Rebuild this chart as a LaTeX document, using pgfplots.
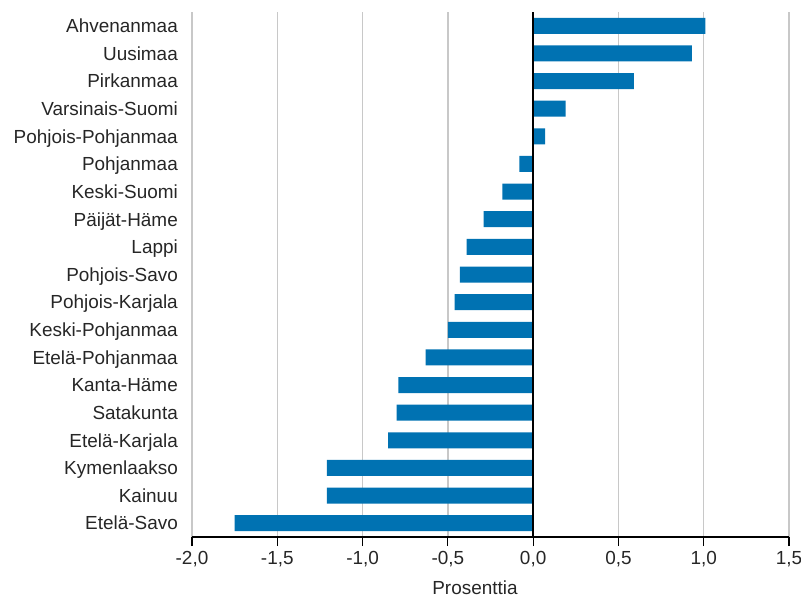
\documentclass[border=0pt]{standalone}
\usepackage{pgfplots}
\pgfplotsset{compat=1.18}
\usepackage{fontspec}
\setmainfont{Liberation Sans}
\definecolor{barblue}{RGB}{0,114,178}
\definecolor{gridgray}{RGB}{200,200,200}
\begin{document}
\begin{tikzpicture}
\useasboundingbox (0,0) rectangle (801bp,-597bp);
\begin{axis}[
  at={(192bp,-537bp)}, anchor=south west,
  scale only axis, width=597bp, height=525bp,
  xmin=-2, xmax=1.5, ymin=-0.5, ymax=18.5,
  y dir=reverse,
  xbar, bar width=16bp, bar shift=0pt,
  axis x line*=bottom, axis y line*=left,
  y axis line style={draw=none},
  x axis line style={black, line width=1.2bp, -},
  xtick={-2,-1.5,-1,-0.5,0,0.5,1,1.5},
  xticklabels={{-2,0},{-1,5},{-1,0},{-0,5},{0,0},{0,5},{1,0},{1,5}},
  tick align=outside,
  major tick length=9bp,
  xtick style={black, line width=1.2bp},
  ytick style={draw=none},
  xmajorgrids,
  grid style={gridgray, line width=1.3bp},
  ytick={0,...,18},
  yticklabels={Ahvenanmaa,Uusimaa,Pirkanmaa,Varsinais-Suomi,Pohjois-Pohjanmaa,Pohjanmaa,Keski-Suomi,Päijät-Häme,Lappi,Pohjois-Savo,Pohjois-Karjala,Keski-Pohjanmaa,Etelä-Pohjanmaa,Kanta-Häme,Satakunta,Etelä-Karjala,Kymenlaakso,Kainuu,Etelä-Savo},
  ticklabel style={font=\fontsize{19}{22}\selectfont, text=black!85},
  yticklabel style={anchor=base east, inner sep=0pt, xshift=-5bp, yshift=-6.8bp},
  xticklabel style={anchor=base, inner sep=0pt, yshift=-18bp},
  xlabel={Prosenttia},
  xlabel style={at={(axis description cs:0.474,-0.1086)}, anchor=base, inner sep=0pt, font=\fontsize{19}{22}\selectfont, text=black!85},
]
\addplot[fill=barblue, draw=none] coordinates {
(1.01,0) (0.93,1) (0.59,2) (0.19,3) (0.07,4) (-0.08,5) (-0.18,6) (-0.29,7) (-0.39,8) (-0.43,9) (-0.46,10) (-0.50,11) (-0.63,12) (-0.79,13) (-0.80,14) (-0.85,15) (-1.21,16) (-1.21,17) (-1.75,18)
};
\draw[black, line width=1.5bp] (axis cs:0,-0.5) -- (axis cs:0,18.5);
\end{axis}
\end{tikzpicture}
\end{document}
